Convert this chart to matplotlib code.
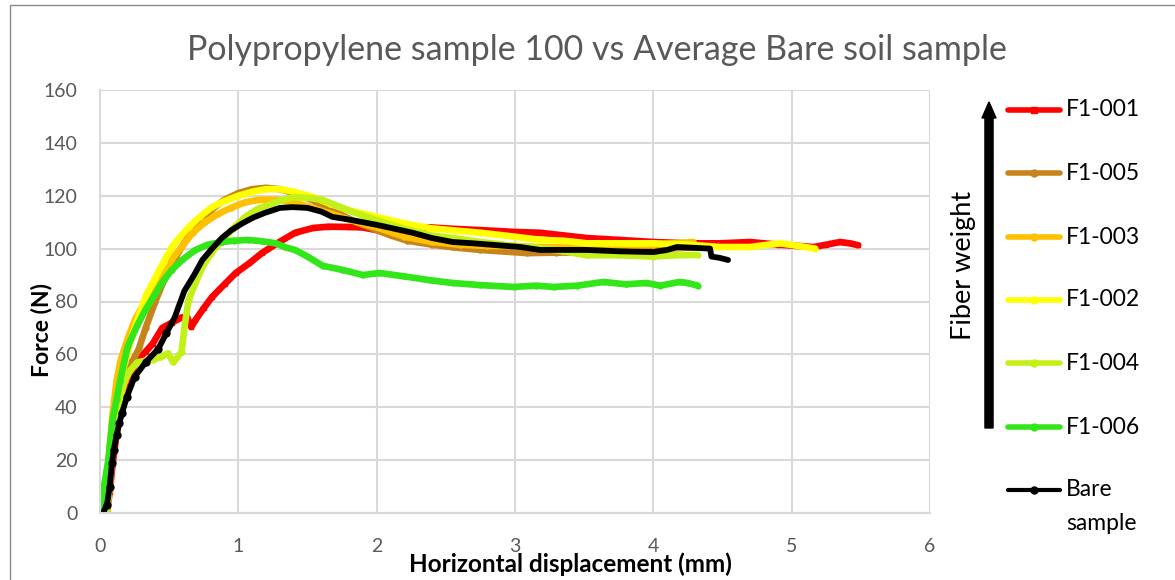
import matplotlib
matplotlib.use("Agg")
import matplotlib.pyplot as plt
from matplotlib.lines import Line2D
from matplotlib.patches import Rectangle, FancyArrow

plt.rcParams['font.family'] = ['Lato', 'DejaVu Sans']

# ---- data: horizontal displacement (mm) vs force (N) ----
f001_x = [0.05, 0.07, 0.09, 0.12, 0.16, 0.2, 0.27, 0.33, 0.38, 0.45, 0.52, 0.59, 0.63, 0.66, 0.69,
          0.75, 0.81, 0.9, 0.98, 1.08, 1.17, 1.28, 1.41, 1.54, 1.65, 1.79, 1.9, 2.0, 2.2, 2.39, 2.55,
          2.75, 3.0, 3.18, 3.35, 3.52, 3.75, 4.0, 4.25, 4.48, 4.7, 4.9, 5.05, 5.16, 5.25, 5.35, 5.42, 5.48]
f001_y = [0, 8, 18, 30, 42, 50, 58, 61, 64, 70, 72, 74, 74, 70.4, 73,
          77.5, 81.7, 86.5, 90.7, 94.5, 98.3, 102, 106, 107.8, 108.3, 108.2, 108, 107, 107.5, 108, 107.5,
          107, 106.3, 106, 105, 104, 103.3, 102.5, 102, 102, 102.5, 101.5, 101, 100.6, 101.5, 102.5, 102, 101.3]

f005_x = [0.04, 0.06, 0.09, 0.12, 0.16, 0.2, 0.24, 0.28, 0.33, 0.4, 0.47, 0.55, 0.63, 0.72, 0.8, 0.9,
          1.0, 1.1, 1.2, 1.3, 1.4, 1.55, 1.7, 1.85, 2.0, 2.1, 2.22, 2.4, 2.55, 2.75, 3.09, 3.3, 3.6,
          3.9, 4.1, 4.3]
f005_y = [0, 12, 25, 38, 48, 55, 58, 62, 70, 80, 89, 97, 104, 110, 114.5, 118.5,
          121, 122.5, 123, 122.5, 121, 118, 114, 110, 107, 105, 103, 101.5, 100.5, 99.5, 98.3, 98.5, 98.5,
          99, 100, 100.5]

f003_x = [0.03, 0.05, 0.07, 0.09, 0.12, 0.15, 0.2, 0.26, 0.33, 0.4, 0.45, 0.52, 0.59, 0.67, 0.76, 0.85,
          0.95, 1.05, 1.15, 1.28, 1.4, 1.5, 1.65, 1.8, 2.0, 2.2, 2.4, 2.6, 2.8, 3.0, 3.2, 3.4, 3.6, 3.8,
          4.0, 4.15, 4.29]
f003_y = [0, 12, 25, 37, 50, 58, 66, 74, 80, 85, 89, 96, 100.6, 106, 110, 113,
          115.5, 117.5, 118.5, 118.5, 117.5, 116, 113.5, 111, 108, 104.5, 102.5, 101.5, 101, 101, 100.5, 100.5, 100.5, 101,
          101.5, 102, 102.5]

f002_x = [0.04, 0.06, 0.08, 0.1, 0.12, 0.15, 0.18, 0.22, 0.27, 0.33, 0.4, 0.46, 0.52, 0.58, 0.64, 0.72,
          0.81, 0.9, 1.0, 1.1, 1.2, 1.3, 1.4, 1.54, 1.66, 1.8, 2.0, 2.2, 2.39, 2.6, 2.75, 3.0, 3.18, 3.35,
          3.52, 3.75, 4.0, 4.25, 4.48, 4.7, 4.8, 4.92, 5.05, 5.17]
f002_y = [0, 10, 20, 30, 40, 50, 57, 65, 73, 82, 89, 95, 100.6, 104.5, 108, 112,
          115.7, 118, 120, 121.5, 122.5, 122.5, 121.5, 119.5, 117, 114.5, 112, 109.5, 107.7, 106.7, 106, 104.5, 103.3, 103,
          102, 102, 102, 101.5, 100.6, 100.6, 101.3, 102, 101, 100]

f004_x = [0.05, 0.07, 0.09, 0.11, 0.14, 0.18, 0.22, 0.27, 0.32, 0.38, 0.44, 0.49, 0.53, 0.56, 0.59, 0.61,
          0.64, 0.69, 0.74, 0.8, 0.88, 0.96, 1.05, 1.14, 1.24, 1.32, 1.41, 1.54, 1.61, 1.7, 1.79, 1.9,
          2.0, 2.2, 2.39, 2.55, 2.75, 3.0, 3.18, 3.35, 3.52, 3.75, 4.0, 4.15, 4.32]
f004_y = [0, 10, 22, 32, 42, 50, 54, 57, 57.5, 58, 59, 60.4, 57, 59, 61, 70,
          80.5, 87, 93, 98, 103, 107.5, 112, 115, 117, 118.5, 119.5, 119, 118.4, 116.5, 114.6, 112.5,
          110.8, 107.5, 105, 104, 102.5, 101, 100.2, 99, 97.5, 97.5, 97, 97.5, 97.6]

f006_x = [0.0, 0.015, 0.035, 0.06, 0.09, 0.12, 0.145, 0.2, 0.27, 0.33, 0.4, 0.46, 0.52, 0.6, 0.69, 0.78,
          0.88, 0.97, 1.07, 1.17, 1.27, 1.34, 1.41, 1.5, 1.61, 1.75, 1.9, 2.02, 2.2, 2.39, 2.55, 2.75,
          2.99, 3.15, 3.28, 3.45, 3.64, 3.8, 3.95, 4.05, 4.19, 4.25, 4.32]
f006_y = [0, 5, 12, 20, 35, 43, 50, 63, 71, 77, 83, 88, 92, 96, 99.5, 101.5,
          102.5, 103, 103.3, 102.8, 102, 100.5, 99.5, 97, 93.5, 92, 90, 90.8, 89.5, 88, 87, 86.2,
          85.5, 86, 85.5, 86, 87.4, 86.5, 87, 86, 87.4, 87, 86]

bare_x = [0.02, 0.05, 0.07, 0.087, 0.1, 0.12, 0.14, 0.16, 0.195, 0.25, 0.33, 0.42, 0.48, 0.54, 0.61,
          0.68, 0.74, 0.81, 0.88, 0.95, 1.03, 1.11, 1.19, 1.3, 1.39, 1.5, 1.6, 1.68, 1.8, 2.0, 2.13,
          2.26, 2.4, 2.55, 2.7, 2.87, 3.04, 3.18, 3.35, 3.52, 3.75, 4.0, 4.1, 4.17, 4.3, 4.41, 4.42,
          4.48, 4.54]
bare_y = [0, 3, 10, 19, 24, 29.5, 34, 38, 44, 51.5, 57, 62, 68, 74, 84,
          90, 95.7, 100, 104, 107, 109.6, 111.8, 113.5, 115.4, 115.7, 115.4, 114, 112, 111, 109, 107.5,
          106, 104, 102.5, 102, 101.3, 100.6, 99.5, 99.5, 99.5, 99, 98.7, 99.5, 100.6, 100.3, 100, 97,
          96.5, 95.7]

series_labels = ["F1-001", "F1-005", "F1-003", "F1-002", "F1-004", "F1-006", "Bare\nsample"]
series_x = [f001_x, f005_x, f003_x, f002_x, f004_x, f006_x, bare_x]
series_y = [f001_y, f005_y, f003_y, f002_y, f004_y, f006_y, bare_y]
series_colors = ["#FF0000", "#C8841C", "#FFC000", "#FFFF00", "#C2F018", "#33E61A", "#000000"]
series_markers = ["s", "o", "o", "o", "o", "o", "o"]

x_ticks = [0, 1, 2, 3, 4, 5, 6]
y_ticks = [0, 20, 40, 60, 80, 100, 120, 140, 160]

W, H = 1175, 580
fig = plt.figure(figsize=(W / 100, H / 100), dpi=100)
ax = fig.add_axes([100 / W, 1 - 513 / H, 830 / W, 423 / H])

grid_c = "#D9D9D9"
tick_c = "#595959"

lines = []
for xs, ys, c, m in zip(series_x, series_y, series_colors, series_markers):
    is_bare = c == "#000000"
    ln, = ax.plot(xs, ys, color=c, lw=4.2 if is_bare else 4.8, marker=m,
                  ms=5 if is_bare else 3.5, mfc=c, mec=c,
                  markevery=slice(0, 13) if is_bare else None,
                  solid_capstyle="round", solid_joinstyle="round")
    lines.append(ln)

ax.set_xlim(0, 6)
ax.set_ylim(0, 160)
ax.set_xticks(x_ticks)
ax.set_yticks(y_ticks)
ax.grid(True, color=grid_c, lw=1.5)
ax.set_axisbelow(True)
for s in ["top", "right"]:
    ax.spines[s].set_visible(False)
for s in ["left", "bottom"]:
    ax.spines[s].set_color(grid_c)
    ax.spines[s].set_linewidth(1.5)
ax.tick_params(axis="both", length=0, labelsize=14, labelcolor=tick_c)
ax.tick_params(axis="x", pad=18)
ax.tick_params(axis="y", pad=16)

fig.text(597 / W, 1 - 50 / H, "Polypropylene sample 100 vs Average Bare soil sample",
         ha="center", va="center", fontsize=24.5, color=tick_c)
fig.text(570 / W, 1 - 564 / H, "Horizontal displacement (mm)", ha="center", va="center",
         fontsize=17.5, fontweight="bold", color="black")
fig.text(42 / W, 1 - 330 / H, "Force (N)", ha="center", va="center", rotation=90,
         fontsize=16.5, fontweight="bold", color="black")

# legend drawn beside the plot, with an arrow for increasing fiber weight
leg_y = [110, 173, 237, 300, 363, 427]
for ln, lab, yy in zip(lines[:-1], series_labels[:-1], leg_y):
    yf = 1 - yy / H
    fig.add_artist(Line2D([1008 / W, 1060 / W], [yf, yf], color=ln.get_color(), lw=4,
                          solid_capstyle="round"))
    fig.add_artist(Line2D([1034 / W], [yf], color=ln.get_color(), marker=ln.get_marker(),
                          ms=5, mfc=ln.get_color(), mec=ln.get_color()))
    fig.text(1066 / W, yf, lab, ha="left", va="center", fontsize=16.5, color="black")

bare = lines[-1]
yf = 1 - 490 / H
fig.add_artist(Line2D([1008 / W, 1060 / W], [yf, yf], color=bare.get_color(), lw=3,
                      solid_capstyle="round"))
fig.add_artist(Line2D([1034 / W], [yf], color=bare.get_color(), marker="o", ms=5,
                      mfc=bare.get_color(), mec=bare.get_color()))
for part, yy in zip(series_labels[-1].split("\n"), [490, 523]):
    fig.text(1066 / W, 1 - yy / H, part, ha="left", va="center", fontsize=16.5, color="black")

fig.add_artist(FancyArrow(989 / W, 1 - 428 / H, 0, (428 - 102) / H, width=4 / H,
                          head_width=14 / W, head_length=16 / H, length_includes_head=True,
                          color="black", transform=fig.transFigure))
fig.text(964 / W, 1 - 265 / H, "Fiber weight", rotation=90, ha="center", va="center",
         fontsize=19.5, color="black")

# outer chart frame
fig.add_artist(Rectangle((9.5 / W, -0.2), 1.2, 1.2 - 4.5 / H, fill=False,
                         edgecolor="#8A8A8A", lw=1, transform=fig.transFigure))

fig.savefig("out.png", dpi=100)
